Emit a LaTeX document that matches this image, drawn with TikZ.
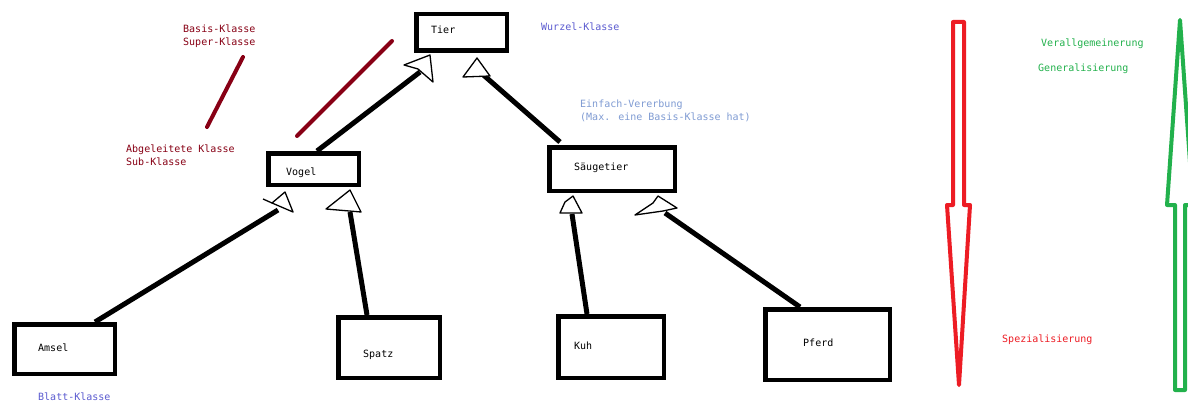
\documentclass[tikz,border=0pt]{standalone}
\usepackage{fontspec}
\newfontfamily\monofam{DejaVu Sans Mono}
\usetikzlibrary{calc}
\definecolor{dred}{HTML}{880015}
\definecolor{indig}{HTML}{5B5BD0}
\definecolor{lblue}{HTML}{7F9BD3}
\definecolor{pgreen}{HTML}{22B14C}
\definecolor{pred}{HTML}{ED1C24}
\tikzset{
  klasse/.style={draw=black,line width=4.5pt,inner sep=0pt,fill=white},
  lbl/.style={anchor=base west,inner sep=0pt,font=\monofam\fontsize{10}{12}\selectfont},
  conn/.style={line width=5pt},
  tri/.style={draw=black,line width=1.3pt,line join=round,fill=white},
  remark/.style={line width=4pt,line cap=round,dred},
  bigarrow/.style={line width=4pt,line join=round}
}
\begin{document}
\begin{tikzpicture}[x=1pt,y=-1pt]
\clip (0,0) rectangle (1188,401);
\fill[white] (0,0) rectangle (1188,401);

% class boxes
\node[klasse,minimum width=90.5pt,minimum height=36.5pt] (tier) at (461.5,32.5) {};
\node[klasse,minimum width=90.5pt,minimum height=31.5pt] (vogel) at (313.5,169) {};
\node[klasse,minimum width=125.5pt,minimum height=43.5pt] (saeug) at (612,169) {};
\node[klasse,minimum width=100.5pt,minimum height=49.5pt] (amsel) at (64.5,349) {};
\node[klasse,minimum width=101.5pt,minimum height=60.5pt] (spatz) at (389,347.5) {};
\node[klasse,minimum width=105.5pt,minimum height=61.5pt] (kuh) at (611,347) {};
\node[klasse,minimum width=124.5pt,minimum height=70.5pt] (pferd) at (827.5,344.5) {};

% box labels
\node[lbl] (tierT) at (431,34) {Tier};
\node[lbl] (vogelT) at (286,175) {Vogel};
\node[lbl] (saeugT) at (574,170) {Säugetier};
\node[lbl] (amselT) at (38,351) {Amsel};
\node[lbl] (spatzT) at (363,357) {Spatz};
\node[lbl] (kuhT) at (574,349) {Kuh};
\node[lbl] (pferdT) at (803,346) {Pferd};

% connector end points
\coordinate (e1) at (420,72);
\coordinate (e2) at (480,72);
\coordinate (e3) at (278,210);
\coordinate (e4) at (350,212);
\coordinate (e5) at (572,214);
\coordinate (e6) at (665,213);

% connectors
\draw[conn] ($(vogel.north)+(3.5,0)$) -- (e1);
\draw[conn] ($(saeug.north)+(-52,-3)$) -- (e2);
\draw[conn] ($(amsel.north)+(30.5,0)$) -- (e3);
\draw[conn] ($(spatz.north)+(-22,0)$) -- (e4);
\draw[conn] ($(kuh.north)+(-24,0)$) -- (e5);
\draw[conn] ($(pferd.north)+(-27.5,0)$) -- (e6);

% hollow triangles (hand drawn)
\draw[tri] (404,65) -- (430,55) -- (433,82) -- (418,69) -- cycle;
\draw[tri] (463,77) -- (477,58) -- (490,76) -- cycle;
\draw[tri] (272,203) -- (285,192) -- (293,212) -- cycle;
\draw[black,line width=1.3pt] (263,199) -- (272,203);
\draw[tri] (326,209) -- (350,190) -- (361,212) -- cycle;
\draw[tri] (560,213) -- (565,202) -- (573,196) -- (582,213) -- cycle;
\draw[tri] (635,215) -- (653,203) -- (658,196) -- (677,208) -- (663,211) -- cycle;

% dark red marker lines
\draw[remark] (243,57) -- (207,127);
\draw[remark] (392,41) -- (297,136);

% annotations
\node[lbl,text=dred] (basis) at (183,33) {Basis-Klasse};
\node[lbl,text=dred] (super) at (183,46) {Super-Klasse};
\node[lbl,text=dred] (abgel) at (126,152) {Abgeleitete Klasse};
\node[lbl,text=dred] (sub) at (126,165) {Sub-Klasse};
\node[lbl,text=indig] (wurzel) at (541,31) {Wurzel-Klasse};
\node[lbl,text=indig] (blatt) at (38,400) {Blatt-Klasse};
\node[lbl,text=lblue] (einf) at (580,108) {Einfach-Vererbung};
\node[lbl,text=lblue] (maxb) at (580,121) {(Max. eine Basis-Klasse hat)};
\node[lbl,text=pgreen] (verall) at (1041,47) {Verallgemeinerung};
\node[lbl,text=pgreen] (general) at (1038,72) {Generalisierung};
\node[lbl,text=pred] (spez) at (1002,342) {Spezialisierung};

% big arrows
\draw[bigarrow,pred] (953,22) -- (964,22) -- (964,205) -- (970,205) -- (959,385) -- (947,205) -- (953,205) -- cycle;
\draw[bigarrow,pgreen] (1180,20) -- (1193,205) -- (1185,205) -- (1185,390) -- (1175,390) -- (1175,205) -- (1167,205) -- cycle;
\end{tikzpicture}
\end{document}
